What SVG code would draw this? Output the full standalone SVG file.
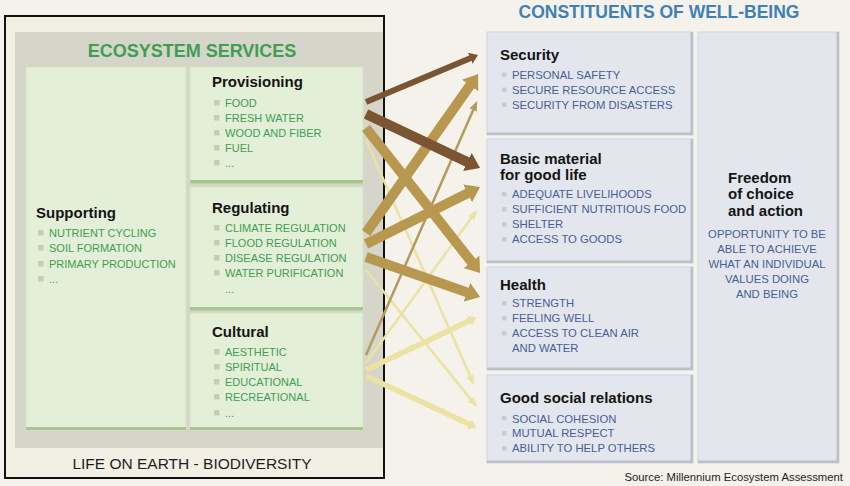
<svg xmlns="http://www.w3.org/2000/svg" width="850" height="486" viewBox="0 0 850 486">
<style>
text{font-family:"Liberation Sans",Arial,sans-serif}
.h{font-weight:bold;font-size:15px;fill:#141414}
.gi{font-size:11px;fill:#3f9e52}
.bi{font-size:11.3px;fill:#485e96}
.gb{fill:#c3d0b0}
.bb{fill:#c8ccd4}
.gbox{fill:#e3efd7;stroke:#d3e3c4;stroke-width:1}
.gsh{fill:#a7c58e}
.bbox{fill:#e3e7ed;stroke:#d0d5dd;stroke-width:1}
.bsh{fill:#b9c0cb}
.ln{fill:none;stroke-linecap:butt}
</style>
<defs>
<marker id="mDark" viewBox="0 0 14 20" refX="1" refY="10" markerWidth="1.4" markerHeight="2" orient="auto" markerUnits="strokeWidth"><path d="M0,0 L14,10 L0,20z" fill="#7b5431"/></marker>
<marker id="mTan" viewBox="0 0 14 20" refX="1" refY="10" markerWidth="1.4" markerHeight="2" orient="auto" markerUnits="strokeWidth"><path d="M0,0 L14,10 L0,20z" fill="#b8984f"/></marker>
<marker id="mPale" viewBox="0 0 14 20" refX="1" refY="10" markerWidth="1.4" markerHeight="2" orient="auto" markerUnits="strokeWidth"><path d="M0,0 L14,10 L0,20z" fill="#ebe3a3"/></marker>
<marker id="mTanS" viewBox="0 0 40 32" refX="2" refY="16" markerWidth="4" markerHeight="3.2" orient="auto" markerUnits="strokeWidth"><path d="M0,0 L40,16 L0,32z" fill="#b49a5e"/></marker>
<marker id="mPaleS" viewBox="0 0 40 32" refX="2" refY="16" markerWidth="4" markerHeight="3.2" orient="auto" markerUnits="strokeWidth"><path d="M0,0 L40,16 L0,32z" fill="#ebe3a3"/></marker>
</defs>

<rect x="0" y="0" width="850" height="486" fill="#f4f2ea"/>

<!-- Left frame -->
<g id="life-on-earth">
<rect x="5" y="16" width="379" height="462" fill="#f2f0e5" stroke="#111" stroke-width="2"/>
<rect x="15" y="32" width="368" height="416" fill="#d6d5ca"/>
<text x="192" y="57" text-anchor="middle" font-size="18" font-weight="bold" fill="#3f9e52">ECOSYSTEM SERVICES</text>
<text x="192" y="469" text-anchor="middle" font-size="15.5" fill="#1e1e1e">LIFE ON EARTH - BIODIVERSITY</text>
</g>

<g id="supporting">
<rect class="gbox" x="26" y="67" width="160" height="363"/>
<rect class="gsh" x="26" y="427" width="160" height="3"/>
<text class="h" x="36" y="218">Supporting</text>
<rect class="gb" x="38" y="230" width="5.5" height="5.5"/><text class="gi" x="49" y="237">NUTRIENT CYCLING</text>
<rect class="gb" x="38" y="245" width="5.5" height="5.5"/><text class="gi" x="49" y="252">SOIL FORMATION</text>
<rect class="gb" x="38" y="261" width="5.5" height="5.5"/><text class="gi" x="49" y="268">PRIMARY PRODUCTION</text>
<rect class="gb" x="38" y="276" width="5.5" height="5.5"/><text class="gi" x="49" y="283">...</text>
</g>

<g id="provisioning">
<rect class="gbox" x="190" y="67" width="173" height="116"/>
<rect class="gsh" x="190" y="180" width="173" height="3.5"/>
<text class="h" x="212" y="87">Provisioning</text>
<rect class="gb" x="214" y="100" width="5.5" height="5.5"/><text class="gi" x="225" y="107">FOOD</text>
<rect class="gb" x="214" y="115" width="5.5" height="5.5"/><text class="gi" x="225" y="122">FRESH WATER</text>
<rect class="gb" x="214" y="130" width="5.5" height="5.5"/><text class="gi" x="225" y="137">WOOD AND FIBER</text>
<rect class="gb" x="214" y="145" width="5.5" height="5.5"/><text class="gi" x="225" y="152">FUEL</text>
<rect class="gb" x="214" y="160" width="5.5" height="5.5"/><text class="gi" x="225" y="167">...</text>
</g>

<g id="regulating">
<rect class="gbox" x="190" y="187" width="173" height="123"/>
<rect class="gsh" x="190" y="307" width="173" height="3.5"/>
<text class="h" x="212" y="213">Regulating</text>
<rect class="gb" x="214" y="225" width="5.5" height="5.5"/><text class="gi" x="225" y="232">CLIMATE REGULATION</text>
<rect class="gb" x="214" y="240" width="5.5" height="5.5"/><text class="gi" x="225" y="247">FLOOD REGULATION</text>
<rect class="gb" x="214" y="255" width="5.5" height="5.5"/><text class="gi" x="225" y="262">DISEASE REGULATION</text>
<rect class="gb" x="214" y="270" width="5.5" height="5.5"/><text class="gi" x="225" y="277">WATER PURIFICATION</text>
<text class="gi" x="225" y="293">...</text>
</g>

<g id="cultural">
<rect class="gbox" x="190" y="313" width="173" height="117"/>
<rect class="gsh" x="190" y="427" width="173" height="3"/>
<text class="h" x="212" y="337">Cultural</text>
<rect class="gb" x="214" y="349" width="5.5" height="5.5"/><text class="gi" x="225" y="356">AESTHETIC</text>
<rect class="gb" x="214" y="364" width="5.5" height="5.5"/><text class="gi" x="225" y="371">SPIRITUAL</text>
<rect class="gb" x="214" y="379" width="5.5" height="5.5"/><text class="gi" x="225" y="386">EDUCATIONAL</text>
<rect class="gb" x="214" y="394" width="5.5" height="5.5"/><text class="gi" x="225" y="401">RECREATIONAL</text>
<rect class="gb" x="214" y="410" width="5.5" height="5.5"/><text class="gi" x="225" y="417">...</text>
</g>

<!-- Right side -->
<g id="constituents-title">
<text x="659" y="18" text-anchor="middle" font-size="17.5" font-weight="bold" fill="#3f80b5">CONSTITUENTS OF WELL-BEING</text>
</g>

<g id="security">
<rect class="bbox" x="487" y="32" width="206" height="103"/>
<rect class="bsh" x="487" y="132.5" width="206" height="2.5"/>
<rect class="bsh" x="690.5" y="32" width="2.5" height="103"/>
<text class="h" x="500" y="60">Security</text>
<rect class="bb" x="502" y="72.5" width="4.5" height="4.5"/><text class="bi" x="512" y="79">PERSONAL SAFETY</text>
<rect class="bb" x="502" y="87.5" width="4.5" height="4.5"/><text class="bi" x="512" y="94">SECURE RESOURCE ACCESS</text>
<rect class="bb" x="502" y="102.5" width="4.5" height="4.5"/><text class="bi" x="512" y="109">SECURITY FROM DISASTERS</text>
</g>

<g id="basic-material">
<rect class="bbox" x="487" y="139" width="206" height="124"/>
<rect class="bsh" x="487" y="260.5" width="206" height="2.5"/>
<rect class="bsh" x="690.5" y="139" width="2.5" height="124"/>
<text class="h" x="500" y="164">Basic material</text>
<text class="h" x="500" y="180">for good life</text>
<rect class="bb" x="502" y="192" width="4.5" height="4.5"/><text class="bi" x="512" y="198.3">ADEQUATE LIVELIHOODS</text>
<rect class="bb" x="502" y="207" width="4.5" height="4.5"/><text class="bi" x="512" y="213.3">SUFFICIENT NUTRITIOUS FOOD</text>
<rect class="bb" x="502" y="222" width="4.5" height="4.5"/><text class="bi" x="512" y="228.3">SHELTER</text>
<rect class="bb" x="502" y="237" width="4.5" height="4.5"/><text class="bi" x="512" y="243.3">ACCESS TO GOODS</text>
</g>

<g id="health">
<rect class="bbox" x="487" y="267" width="206" height="103"/>
<rect class="bsh" x="487" y="367.5" width="206" height="2.5"/>
<rect class="bsh" x="690.5" y="267" width="2.5" height="103"/>
<text class="h" x="500" y="290">Health</text>
<rect class="bb" x="502" y="301" width="4.5" height="4.5"/><text class="bi" x="512" y="307.3">STRENGTH</text>
<rect class="bb" x="502" y="316" width="4.5" height="4.5"/><text class="bi" x="512" y="322.3">FEELING WELL</text>
<rect class="bb" x="502" y="331" width="4.5" height="4.5"/><text class="bi" x="512" y="337.3">ACCESS TO CLEAN AIR</text>
<text class="bi" x="512" y="352.3">AND WATER</text>
</g>

<g id="good-social-relations">
<rect class="bbox" x="487" y="375" width="206" height="88"/>
<rect class="bsh" x="487" y="460.5" width="206" height="2.5"/>
<rect class="bsh" x="690.5" y="375" width="2.5" height="88"/>
<text class="h" x="500" y="403">Good social relations</text>
<rect class="bb" x="502" y="416" width="4.5" height="4.5"/><text class="bi" x="512" y="422.5">SOCIAL COHESION</text>
<rect class="bb" x="502" y="431" width="4.5" height="4.5"/><text class="bi" x="512" y="437.3">MUTUAL RESPECT</text>
<rect class="bb" x="502" y="446" width="4.5" height="4.5"/><text class="bi" x="512" y="452.3">ABILITY TO HELP OTHERS</text>
</g>

<g id="freedom">
<rect class="bbox" x="698" y="32" width="141" height="431"/>
<rect class="bsh" x="698" y="460.5" width="141" height="2.5"/>
<rect class="bsh" x="836.5" y="32" width="2.5" height="431"/>
<text class="h" x="728" y="183">Freedom</text>
<text class="h" x="728" y="199">of choice</text>
<text class="h" x="728" y="216">and action</text>
<text class="bi" x="767" y="238.3" text-anchor="middle">OPPORTUNITY TO BE</text>
<text class="bi" x="767" y="253.3" text-anchor="middle">ABLE TO ACHIEVE</text>
<text class="bi" x="767" y="268.3" text-anchor="middle">WHAT AN INDIVIDUAL</text>
<text class="bi" x="767" y="283.3" text-anchor="middle">VALUES DOING</text>
<text class="bi" x="767" y="298.3" text-anchor="middle">AND BEING</text>
</g>

<g id="connectors">
<!-- pale -->
<line class="ln" x1="366" y1="140" x2="470.2" y2="376.3" stroke="#ebe3a3" stroke-width="2.5" marker-end="url(#mPaleS)"/>
<line class="ln" x1="366" y1="270" x2="471.1" y2="399.6" stroke="#ebe3a3" stroke-width="2.5" marker-end="url(#mPaleS)"/>
<line class="ln" x1="366" y1="363" x2="471.5" y2="217.7" stroke="#ebe3a3" stroke-width="2.5" marker-end="url(#mPaleS)"/>
<line class="ln" x1="366" y1="370" x2="470" y2="320.4" stroke="#ebe3a3" stroke-width="5.5" marker-end="url(#mPale)"/>
<line class="ln" x1="366" y1="376" x2="470" y2="424.6" stroke="#ebe3a3" stroke-width="5.5" marker-end="url(#mPale)"/>
<!-- tan -->
<line class="ln" x1="366" y1="355" x2="473.3" y2="109.7" stroke="#b49a5e" stroke-width="2.5" marker-end="url(#mTanS)"/>
<line class="ln" x1="366" y1="128" x2="472.1" y2="262.7" stroke="#b8984f" stroke-width="10" marker-end="url(#mTan)"/>
<line class="ln" x1="366" y1="233" x2="470.6" y2="84.7" stroke="#b8984f" stroke-width="10" marker-end="url(#mTan)"/>
<line class="ln" x1="366" y1="244" x2="468.4" y2="192.9" stroke="#b8984f" stroke-width="10" marker-end="url(#mTan)"/>
<line class="ln" x1="366" y1="257" x2="467.8" y2="292.6" stroke="#b8984f" stroke-width="10" marker-end="url(#mTan)"/>
<!-- dark -->
<line class="ln" x1="366" y1="102" x2="470.8" y2="58.1" stroke="#7b5431" stroke-width="6" marker-end="url(#mDark)"/>
<line class="ln" x1="366" y1="114" x2="468.3" y2="162.4" stroke="#7b5431" stroke-width="10" marker-end="url(#mDark)"/>
</g>

<text x="843" y="480.5" text-anchor="end" font-size="11.3" fill="#1e1e1e">Source: Millennium Ecosystem Assessment</text>
</svg>
